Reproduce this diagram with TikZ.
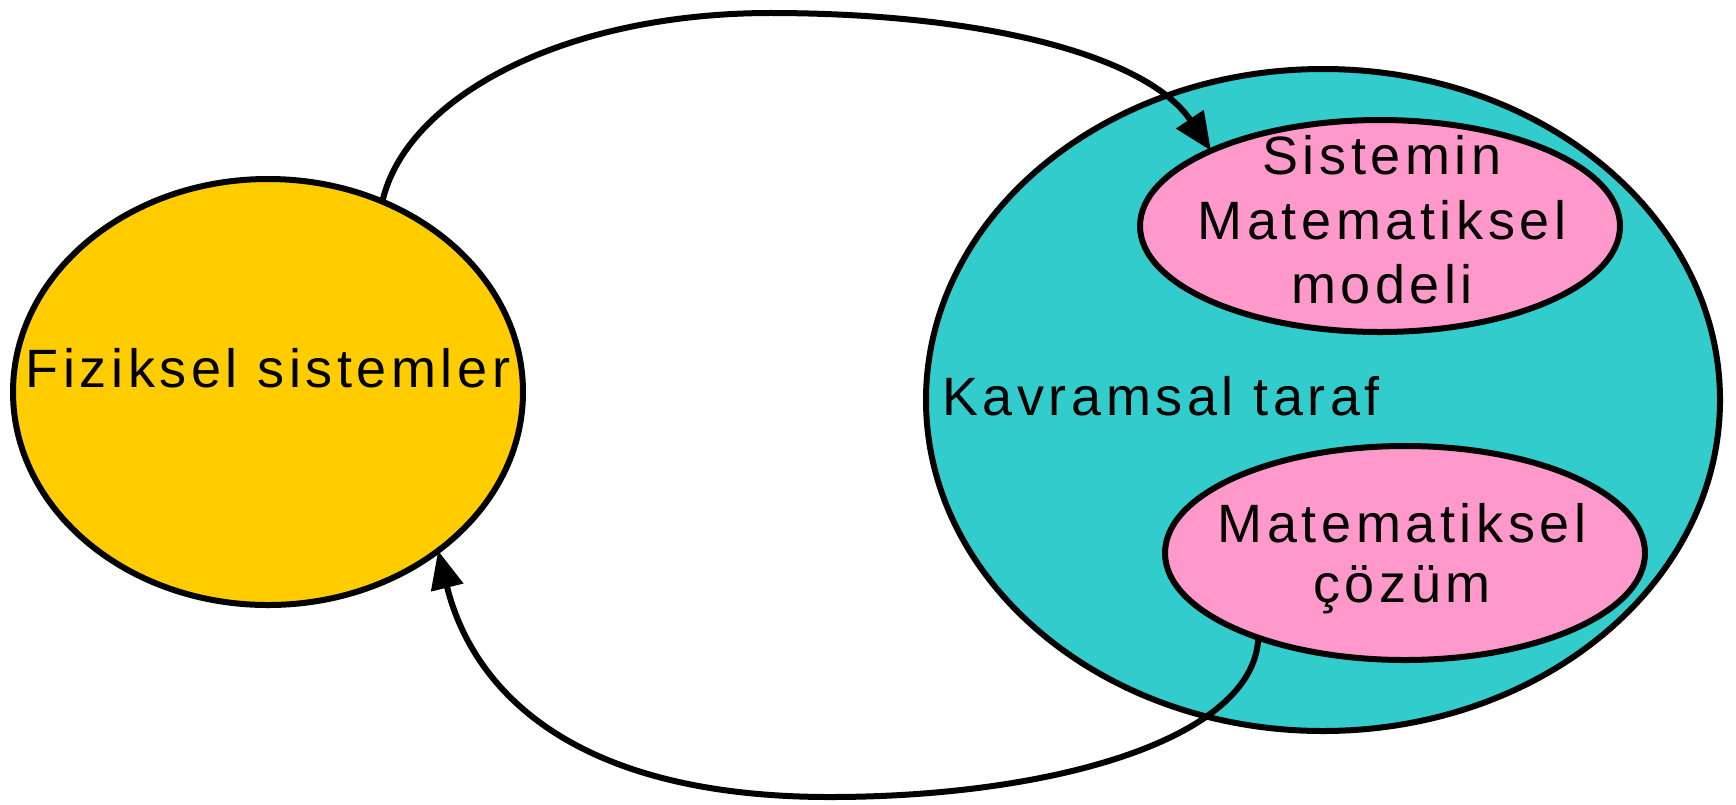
\documentclass[tikz,border=0pt]{standalone}
\usepackage{fontspec}
\newfontfamily\lblfont{Liberation Sans}[LetterSpace=8.5]
\usetikzlibrary{arrows.meta,shapes.geometric}
\definecolor{sunyellow}{HTML}{FFCC00}
\definecolor{tealfill}{HTML}{33CCCC}
\definecolor{pinkfill}{HTML}{FF99CC}
\tikzset{
  blob/.style={ellipse, draw=black, line width=6pt, inner sep=0pt, outer sep=0pt},
  lbl/.style={font=\lblfont\fontsize{54}{64.5}\selectfont, inner sep=0pt, text=black},
  flow/.style={line width=6pt, -{Triangle[length=38pt,width=32pt]}},
}
\begin{document}
\begin{tikzpicture}[x=1pt,y=-1pt]
\useasboundingbox (0,0) rectangle (1736,804);
% outer regions
\node[blob, fill=sunyellow, minimum width=510pt, minimum height=426pt] (fiz) at (268,392) {};
\node[blob, fill=tealfill, minimum width=794pt, minimum height=662pt] (kav) at (1323,400) {};
% inner regions
\node[blob, fill=pinkfill, minimum width=480pt, minimum height=212pt] (model) at (1380,226) {};
\node[blob, fill=pinkfill, minimum width=480pt, minimum height=214pt] (cozum) at (1405,553) {};
% labels
\node[lbl, anchor=base] (fizlbl) at (268,387) {Fiziksel sistemler};
\node[lbl, anchor=base west] (kavlbl) at (942,415) {Kavramsal taraf};
\node[lbl, anchor=base] (m1) at (1382,174) {Sistemin};
\node[lbl, anchor=base] (m2) at (1382,239) {Matematiksel};
\node[lbl, anchor=base] (m3) at (1382,303) {modeli};
\node[lbl, anchor=base] (c1) at (1402,542) {Matematiksel};
\node[lbl, anchor=base] (c2) at (1402,602) {çözüm};
% connectors
\draw[flow] (fiz.59) .. controls (405,100) and (560,12) .. (775,13)
  .. controls (1000,14) and (1150,60) .. (model.156);
\draw[flow] (cozum.210) .. controls (1254,740) and (1050,797) .. (830,797)
  .. controls (560,797) and (470,680) .. (fiz.-43);
\end{tikzpicture}
\end{document}
